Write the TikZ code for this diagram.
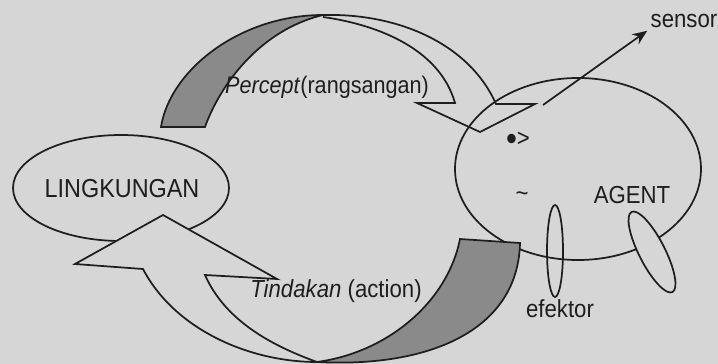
\documentclass[tikz,border=0pt]{standalone}
\usepackage{fontspec}
\setmainfont{Liberation Sans}[FakeStretch=0.9]
\usetikzlibrary{arrows.meta}
\definecolor{paper}{RGB}{214,214,214}
\definecolor{ribbon}{RGB}{138,138,138}
\definecolor{ink}{RGB}{30,30,30}
\tikzset{lbl/.style={anchor=base, text=ink, inner sep=2pt, font=\fontsize{18.5}{20}\selectfont}}

\begin{document}
\begin{tikzpicture}[>={Stealth[length=11pt,width=9pt]}, x=0.75pt, y=-0.75pt, line width=1.3pt, color=ink]
	\useasboundingbox (0,0) rectangle (718,364);
	\fill[paper] (0,0) rectangle (718,364);
	\draw (121,188) ellipse [x radius=108, y radius=53];
	\draw[fill=ribbon] (161,127) .. controls (170,70) and (240,15) .. (323,15)
		.. controls (260,30) and (220,85) .. (205,127) -- cycle;
	\draw (323,15) .. controls (400,13) and (470,45) .. (496,104) -- (535,104) -- (480,132)
		-- (417,103) -- (455,103) .. controls (440,50) and (380,25) .. (323,17);
	\draw[fill=paper] (317,362) .. controls (250,362) and (175,330) .. (143,269) -- (75,264)
		-- (163,215) -- (277,279) -- (205,275) .. controls (225,320) and (270,345) .. (317,362) -- cycle;
	\draw (578,169) ellipse [x radius=123, y radius=91];
	\draw[fill=ribbon] (460,239) -- (520,243) .. controls (518,330) and (430,368) .. (317,362)
		.. controls (390,352) and (448,300) .. (460,239) -- cycle;
	\draw (555,251) ellipse [x radius=8, y radius=46];
	\draw[fill=paper, rotate around={27:(652,252)}] (652,252) ellipse [x radius=13, y radius=45];
	\node[lbl, font=\fontsize{19.5}{20}\selectfont] (lingkungan) at (122,197) {LINGKUNGAN};
	\node[lbl] (agent) at (632,203) {AGENT};
	\node[lbl] (sensor) at (684,27) {sensor};
	\node[lbl] (efektor) at (560,317) {efektor};
	\node[lbl, font=\fontsize{18}{20}\selectfont] (percept) at (327,93) {\textit{Percept}(rangsangan)};
	\node[lbl] (tindakan) at (336,297) {\textit{Tindakan} (action)};
	\node[lbl] (mata) at (518,146) {\raisebox{-3pt}{\fontsize{26}{26}\selectfont•}>};
	\node[lbl] (mulut) at (522,201) {\textasciitilde};
	\coordinate (sensorfoot) at (543,105);
	\draw[->] (sensorfoot) -- (sensor.south west);
\end{tikzpicture}
\end{document}
